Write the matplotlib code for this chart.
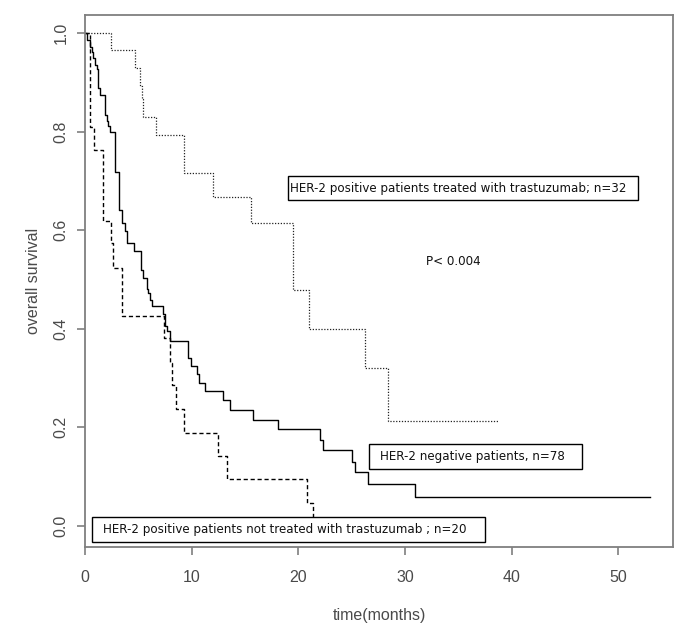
import matplotlib
matplotlib.use("Agg")
import matplotlib.pyplot as plt
from matplotlib.patches import Rectangle

# ---- data ----
trast_t = [0, 2.4, 4.7, 5.15, 5.31, 5.47, 6.65, 9.3, 12.0, 15.56, 19.5, 21.0, 26.2, 28.4, 38.8]
trast_s = [1.0, 0.966, 0.929, 0.893, 0.866, 0.829, 0.794, 0.716, 0.668, 0.615, 0.478, 0.400, 0.320, 0.212, 0.212]

neg_t = [0, 0.2, 0.47, 0.62, 0.78, 0.94, 1.09, 1.25, 1.41, 1.87, 2.03, 2.18, 2.34, 2.81, 3.22, 3.44,
         3.75, 3.9, 4.62, 5.25, 5.47, 5.78, 5.94, 6.09, 6.25, 7.28, 7.5, 7.72, 7.97, 9.69, 9.9,
         10.53, 10.68, 11.25, 12.9, 13.6, 15.7, 18.1, 22.0, 22.3, 25.0, 25.3, 26.55, 30.9, 53.0]
neg_s = [1.0, 0.986, 0.972, 0.962, 0.949, 0.935, 0.928, 0.888, 0.874, 0.834, 0.821, 0.811, 0.799, 0.719, 0.641, 0.615,
         0.598, 0.575, 0.558, 0.520, 0.503, 0.480, 0.473, 0.459, 0.447, 0.429, 0.405, 0.395, 0.374, 0.341, 0.324,
         0.307, 0.290, 0.273, 0.256, 0.235, 0.215, 0.196, 0.173, 0.153, 0.130, 0.108, 0.085, 0.058, 0.058]

pos_t = [0, 0.47, 0.84, 1.72, 2.4, 2.65, 3.44, 7.4, 7.97, 8.2, 8.53, 9.28, 12.5, 13.28, 20.8, 21.4]
pos_s = [1.0, 0.809, 0.762, 0.619, 0.573, 0.524, 0.425, 0.381, 0.330, 0.286, 0.237, 0.189, 0.142, 0.094, 0.047, 0.0]

x_ticks = [0, 10, 20, 30, 40, 50]
y_ticks = [0.0, 0.2, 0.4, 0.6, 0.8, 1.0]
y_tick_labels = ["0.0", "0.2", "0.4", "0.6", "0.8", "1.0"]

label_trast = "HER-2 positive patients treated with trastuzumab; n=32"
label_neg = "HER-2 negative patients, n=78"
label_pos = "HER-2 positive patients not treated with trastuzumab ; n=20"
p_text = "P< 0.004"

W, H = 685, 630
fig = plt.figure(figsize=(W / 100, H / 100), dpi=100)
ax = fig.add_axes([85 / W, 1 - 546.7 / H, (673.3 - 85) / W, (546.7 - 15) / H])

ax.step(trast_t, trast_s, where="post", color="#222222", lw=0.9, linestyle=(0, (1, 1.3)))
ax.step(neg_t, neg_s, where="post", color="black", lw=1.0)
ax.step(pos_t, pos_s, where="post", color="black", lw=1.0, linestyle=(0, (3, 2)))

ax.set_xlim(0, 55.14)
ax.set_ylim(-0.0427, 1.037)

grey = "#7f7f7f"
for s in ax.spines.values():
    s.set_color(grey)
    s.set_linewidth(1.3)

tick_font = {"family": "Liberation Sans", "size": 11.5}
ax.set_xticks(x_ticks)
ax.set_xticklabels([str(v) for v in x_ticks], fontdict=tick_font, color="#4a4a4a")
ax.set_yticks(y_ticks)
ax.set_yticklabels(y_tick_labels, fontdict=tick_font, color="#4a4a4a", rotation=90, va="center")
ax.tick_params(axis="both", direction="out", length=6, width=1.2, color=grey)
ax.tick_params(axis="x", pad=11)
ax.tick_params(axis="y", pad=6)

ax.set_xlabel("time(months)", fontdict=tick_font, color="#4a4a4a", labelpad=16)
ax.set_ylabel("overall survival", fontdict=tick_font, color="#4a4a4a", labelpad=9)


def box(x0, y0, x1, y1, text, tx):
    r = Rectangle((x0 / W, 1 - y1 / H), (x1 - x0) / W, (y1 - y0) / H,
                  transform=fig.transFigure, fill=True, facecolor="white",
                  edgecolor="black", lw=1.0, zorder=5)
    fig.patches.append(r)
    fig.text(tx / W, 1 - (y0 + y1) / 2 / H, text, ha="left", va="center",
             fontsize=8.6, family="DejaVu Sans", color="#111111", zorder=6)


box(287.7, 176, 638, 200, label_trast, 290.5)
box(369.3, 444.3, 581.7, 469.3, label_neg, 380)
box(92.3, 517.3, 484.6, 541.7, label_pos, 103.3)
fig.text(426 / W, 1 - 261.7 / H, p_text, ha="left", va="center",
         fontsize=8.6, family="DejaVu Sans", color="#111111")

fig.savefig("out.png", dpi=100)
